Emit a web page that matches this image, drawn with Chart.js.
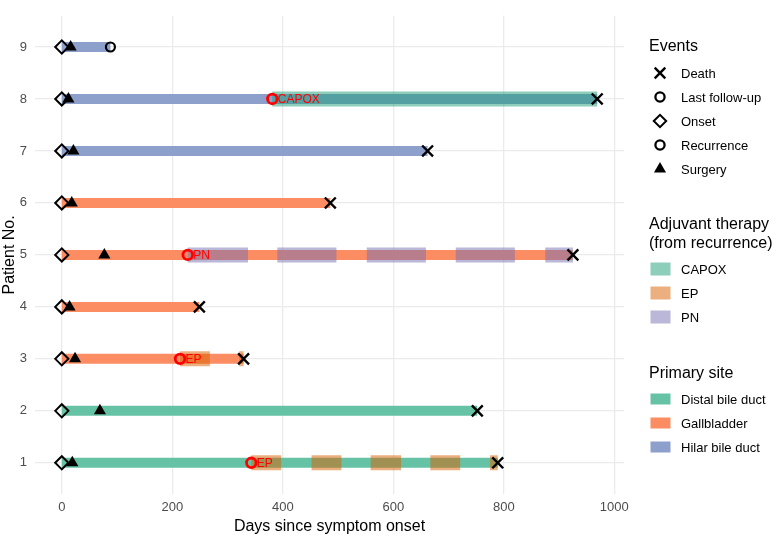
<!DOCTYPE html>
<html>
<head>
<meta charset="utf-8">
<script src="https://cdn.jsdelivr.net/npm/chart.js@4.4.1/dist/chart.umd.min.js"></script>
<style>
  body { margin: 0; background: #fff; }
  #wrap { position: relative; width: 778px; height: 538px; font-family: "Liberation Sans", Arial, sans-serif; }
  #myChart { position: absolute; left: 0; top: 0; }
  #legend { position: absolute; left: 0; top: 0; }
</style>
</head>
<body>
<div id="wrap">
  <canvas id="myChart" width="778" height="538"></canvas>
  <svg id="legend" width="778" height="538" xmlns="http://www.w3.org/2000/svg"></svg>
</div>
<script>
// 患者ごとのデータ
const patients = [1, 2, 3, 4, 5, 6, 7, 8, 9]
const sites = ['Distal bile duct', 'Distal bile duct', 'Gallbladder', 'Gallbladder', 'Gallbladder',
  'Gallbladder', 'Hilar bile duct', 'Hilar bile duct', 'Hilar bile duct']
const endDay = [789, 752, 329, 249, 925, 486, 662, 969, 88]
const onsetDay = [0, 0, 0, 0, 0, 0, 0, 0, 0]
const surgeryDay = [19, 69, 24, 14, 77, 18, 21, 12, 16]
const deathDay = [789, 752, 329, 249, 925, 486, 662, 969, null]
const followUpDay = [null, null, null, null, null, null, null, null, 88]
const recurrenceDay = [343, null, 214, null, 228, null, null, 381, null]
const therapyName = ['EP', null, 'EP', null, 'PN', null, null, 'CAPOX', null]

// 補助療法の期間 [患者, 開始, 終了]
const capoxSegments = [[8, 381, 969]]
const epSegments = [[1, 343, 397], [1, 452, 506], [1, 559, 614], [1, 667, 721], [1, 775, 789],
  [3, 214, 268], [3, 321, 329]]
const pnSegments = [[5, 228, 337], [5, 390, 497], [5, 552, 659], [5, 713, 820], [5, 875, 925]]

// 目盛り
const xTicks = [0, 200, 400, 600, 800, 1000]
const yTicks = patients

// 凡例
const eventNames = ['Death', 'Last follow-up', 'Onset', 'Recurrence', 'Surgery']
const therapyNames = ['CAPOX', 'EP', 'PN']
const siteNames = ['Distal bile duct', 'Gallbladder', 'Hilar bile duct']

const siteColor = {
  'Distal bile duct': '#66C2A5',
  'Gallbladder': '#FC8D62',
  'Hilar bile duct': '#8DA0CB',
}
const therapyColor = {
  CAPOX: 'rgba(27,158,119,0.5)',
  EP: 'rgba(217,95,2,0.5)',
  PN: 'rgba(117,112,179,0.5)',
}
const FONT = '"Liberation Sans", Arial, sans-serif'

const toPoints = (days) =>
  days.map((d, i) => (d === null ? null : { x: d, y: patients[i] })).filter((el) => el !== null)

const toSegments = (segs) => {
  const out = []
  segs.forEach((s) => {
    out.push({ x: s[1], y: s[0] }, { x: s[2], y: s[0] }, { x: null, y: null })
  })
  return out
}

const datasets = []

// 本体のバー
patients.forEach((p, i) => {
  datasets.push({
    label: 'site' + p,
    data: [{ x: 0, y: p }, { x: endDay[i], y: p }],
    borderColor: siteColor[sites[i]],
    borderWidth: 10,
    pointRadius: 0,
    order: 3,
  })
})

// 補助療法
;[['CAPOX', capoxSegments], ['EP', epSegments], ['PN', pnSegments]].forEach(([name, segs]) => {
  datasets.push({
    label: name,
    data: toSegments(segs),
    borderColor: therapyColor[name],
    borderWidth: 15,
    pointRadius: 0,
    spanGaps: false,
    order: 2,
  })
})

// イベント
datasets.push({
  label: 'Onset', data: toPoints(onsetDay), showLine: false, order: 1,
  pointStyle: 'rectRot', pointRadius: 6.6, pointBorderWidth: 2,
  pointBorderColor: '#000', pointBackgroundColor: 'rgba(0,0,0,0)',
})
datasets.push({
  label: 'Surgery', data: toPoints(surgeryDay), showLine: false, order: 1,
  pointStyle: 'triangle', pointRadius: 7, pointBorderWidth: 0,
  pointBackgroundColor: '#000',
})
datasets.push({
  label: 'Recurrence', data: toPoints(recurrenceDay), showLine: false, order: 0,
  pointStyle: 'circle', pointRadius: 4.8, pointBorderWidth: 2.8,
  pointBorderColor: '#ff0000', pointBackgroundColor: 'rgba(0,0,0,0)',
})
datasets.push({
  label: 'Last follow-up', data: toPoints(followUpDay), showLine: false, order: 0,
  pointStyle: 'circle', pointRadius: 4.5, pointBorderWidth: 2.2,
  pointBorderColor: '#000', pointBackgroundColor: 'rgba(0,0,0,0)',
})
datasets.push({
  label: 'Death', data: toPoints(deathDay), showLine: false, order: 0,
  pointStyle: 'crossRot', pointRadius: 7.7, pointBorderWidth: 2.4,
  pointBorderColor: '#000',
})

// 再発時の療法名ラベル
const therapyLabels = {
  id: 'therapyLabels',
  afterDatasetsDraw(chart) {
    const { ctx, scales: { x, y } } = chart
    ctx.save()
    ctx.font = '12px ' + FONT
    ctx.fillStyle = '#ff0000'
    ctx.textAlign = 'left'
    ctx.textBaseline = 'middle'
    patients.forEach((p, i) => {
      if (therapyName[i]) {
        ctx.fillText(therapyName[i], x.getPixelForValue(recurrenceDay[i] + 10), y.getPixelForValue(p) + 0.5)
      }
    })
    ctx.restore()
  },
}

const ctx = document.getElementById('myChart').getContext('2d')
const myChart = new Chart(ctx, {
  type: 'line',
  data: { datasets: datasets },
  plugins: [therapyLabels],
  options: {
    responsive: false,
    animation: false,
    devicePixelRatio: 1,
    layout: { padding: { top: 1, right: 154, left: 0, bottom: 0 } },
    plugins: { legend: { display: false }, tooltip: { enabled: false } },
    scales: {
      x: {
        type: 'linear',
        min: -48.5,
        max: 1017.5,
        afterBuildTicks: (scale) => { scale.ticks = xTicks.map((v) => ({ value: v })) },
        afterFit: (scale) => { scale.height = 44 },
        ticks: {
          color: '#4d4d4d', font: { size: 13, family: FONT }, padding: 6, maxRotation: 0,
          callback: (v) => String(v),
        },
        grid: { color: '#ebebeb', lineWidth: 1.3, drawTicks: false },
        border: { display: false },
        title: {
          display: true, text: 'Days since symptom onset', color: '#000',
          font: { size: 16, family: FONT }, padding: { top: 0, bottom: 2 },
        },
      },
      y: {
        type: 'linear',
        min: 0.4,
        max: 9.6,
        afterBuildTicks: (scale) => { scale.ticks = yTicks.map((v) => ({ value: v })) },
        afterFit: (scale) => { scale.width = 35 },
        ticks: {
          color: '#4d4d4d', font: { size: 13, family: FONT }, padding: 8,
          callback: (v) => String(v),
        },
        grid: { color: '#ebebeb', lineWidth: 1.3, drawTicks: false },
        border: { display: false },
        title: {
          display: true, text: 'Patient No.', color: '#000',
          font: { size: 16, family: FONT }, padding: { top: 0, bottom: 0 },
        },
      },
    },
  },
})

// 凡例 (SVG)
const svg = document.getElementById('legend')
let html = ''
const text = (x, y, s, size) =>
  `<text x="${x}" y="${y}" font-family='${FONT}' font-size="${size}" dominant-baseline="central" fill="#000">${s}</text>`

// Events
html += text(649, 45, 'Events', 16)
const evY = [73, 97, 121, 145, 169]
const sx = 660
eventNames.forEach((name, i) => {
  const cy = evY[i]
  if (name === 'Death') {
    html += `<path d="M${sx - 5.3} ${cy - 5.3}L${sx + 5.3} ${cy + 5.3}M${sx + 5.3} ${cy - 5.3}L${sx - 5.3} ${cy + 5.3}" stroke="#000" stroke-width="2.4"/>`
  } else if (name === 'Onset') {
    html += `<path d="M${sx - 6.2} ${cy}L${sx} ${cy - 6.2}L${sx + 6.2} ${cy}L${sx} ${cy + 6.2}Z" fill="none" stroke="#000" stroke-width="2"/>`
  } else if (name === 'Surgery') {
    html += `<path d="M${sx} ${cy - 7}L${sx + 6.06} ${cy + 3.5}L${sx - 6.06} ${cy + 3.5}Z" fill="#000"/>`
  } else {
    html += `<circle cx="${sx}" cy="${cy}" r="4.6" fill="none" stroke="#000" stroke-width="2.3"/>`
  }
  html += text(681, cy, name, 13)
})

// Adjuvant therapy
html += text(649, 223, 'Adjuvant therapy', 16)
html += text(649, 242, '(from recurrence)', 16)
const thY = [269, 293, 317]
therapyNames.forEach((name, i) => {
  html += `<rect x="650.5" y="${thY[i] - 6.5}" width="20" height="13" fill="${therapyColor[name]}"/>`
  html += text(681, thY[i], name, 13)
})

// Primary site
html += text(649, 372, 'Primary site', 16)
const stY = [399, 423, 447]
siteNames.forEach((name, i) => {
  html += `<rect x="650.5" y="${stY[i] - 5.5}" width="20" height="11" fill="${siteColor[name]}"/>`
  html += text(681, stY[i], name, 13)
})
svg.innerHTML = html
</script>
</body>
</html>
